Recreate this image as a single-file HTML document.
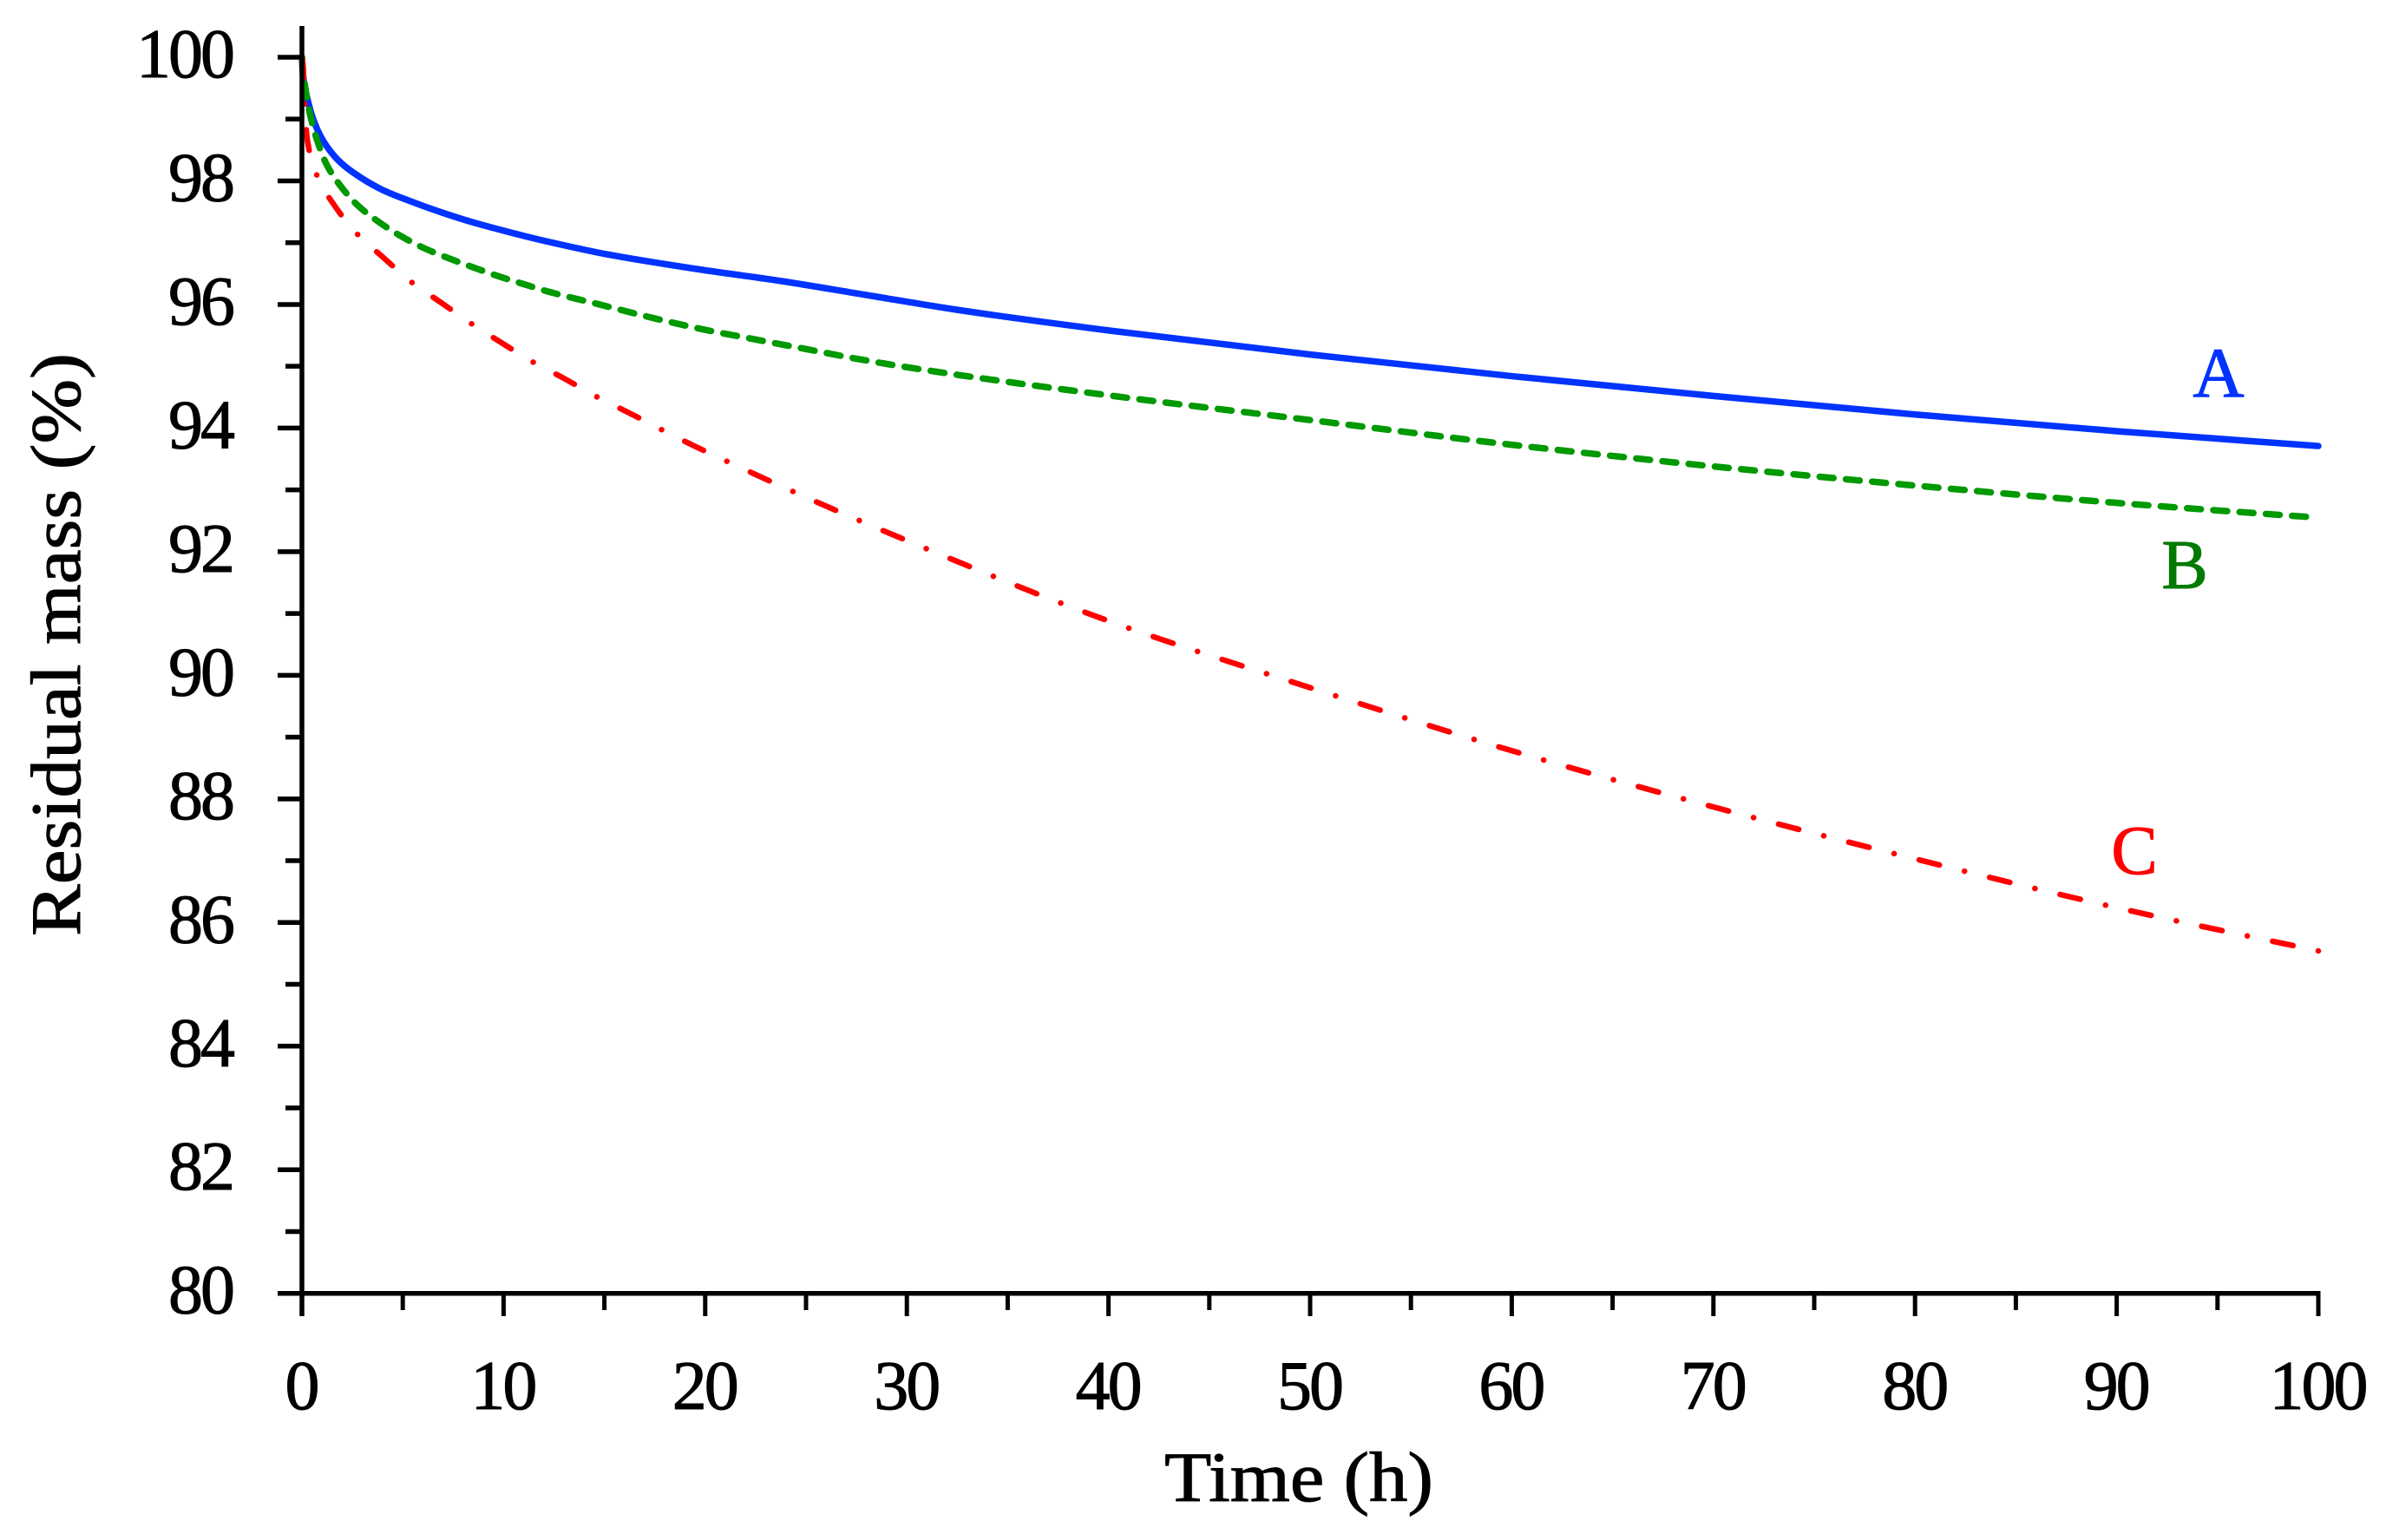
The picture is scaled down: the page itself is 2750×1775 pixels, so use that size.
<!DOCTYPE html>
<html lang="en">
<head>
<meta charset="utf-8">
<title>Residual mass over time</title>
<style>
html,body{margin:0;padding:0;background:#fff;}
svg{display:block;font-family:"Liberation Serif",serif;}
</style>
</head>
<body>
<svg id="chart" xmlns="http://www.w3.org/2000/svg" width="2750" height="1775" viewBox="0 0 2750 1775">
  <rect x="0" y="0" width="2750" height="1775" fill="#ffffff"/>
  <g id="series"></g>
  <g id="y-axis"></g>
  <g id="x-axis"></g>
  <text transform="translate(92,743) rotate(-90)" text-anchor="middle" font-size="82" fill="#000" stroke="#000" stroke-width="1" textLength="672" lengthAdjust="spacingAndGlyphs">Residual mass (%)</text>
  <text x="1497" y="1730" text-anchor="middle" font-size="82" fill="#000" stroke="#000" stroke-width="1" textLength="310" lengthAdjust="spacingAndGlyphs">Time (h)</text>
  <text x="2557" y="457" text-anchor="middle" font-size="82" fill="#0033ff" stroke="#0033ff" stroke-width="1">A</text>
  <text x="2518" y="678" text-anchor="middle" font-size="80" fill="#007a00" stroke="#007a00" stroke-width="1">B</text>
  <text x="2460" y="1007" text-anchor="middle" font-size="80" fill="#ff0000" stroke="#ff0000" stroke-width="1">C</text>
</svg>
<script>
const timesA = [0,0.05,0.3,0.66,1.09,1.81,2.52,3.96,5.39,6.83,8.26,9.7,11.13,12.56,15.15,19.45,23.75,28.05,32.36,40,50,60,70,80,90,100];
const massA = [100,99.72,99.29,98.91,98.63,98.33,98.14,97.86,97.67,97.5,97.35,97.22,97.1,96.99,96.81,96.58,96.38,96.15,95.92,95.58,95.19,94.84,94.52,94.22,93.95,93.71];
const timesB = [0,0.05,0.16,0.4,0.73,1.2,1.91,2.78,3.79,4.89,6.07,7.26,8.5,9.72,10.99,12.2,14.76,17.3,19.85,22.39,24.97,27.55,30.1,40,50,60,70,80,90,100];
const massB = [100,99.78,99.52,99.08,98.68,98.28,97.92,97.6,97.34,97.11,96.91,96.75,96.6,96.46,96.33,96.21,96.0,95.79,95.6,95.44,95.28,95.12,94.98,94.53,94.13,93.73,93.38,93.07,92.79,92.55];
const timesC = [0,0.06,0.13,0.26,0.73,1.64,2.74,4.07,5.44,6.9,8.4,9.9,11.45,13.02,14.6,16.2,17.8,19.4,21.03,25,30,40,50,60,70,80,90,100];
const massC = [100,99.85,99.26,98.68,98.1,97.59,97.14,96.75,96.36,96.03,95.69,95.38,95.07,94.8,94.51,94.25,93.98,93.72,93.47,92.88,92.18,90.88,89.8,88.78,87.87,87.03,86.24,85.54];
const xTickLabels = [0,10,20,30,40,50,60,70,80,90,100];
const yTickLabels = [80,82,84,86,88,90,92,94,96,98,100];
const xMinorTicks = [5,15,25,35,45,55,65,75,85,95];
const yMinorTicks = [81,83,85,87,89,91,93,95,97,99];

const NS = 'http://www.w3.org/2000/svg';
const plot = {x0: 348, x1: 2672, y0: 1490.7, y1: 66, top: 30};
function xScale(t){ return plot.x0 + (t - 0) / 100 * (plot.x1 - plot.x0); }
function yScale(v){ return plot.y0 - (v - 80) / 20 * (plot.y0 - plot.y1); }

function makeLine(parent, x1, y1, x2, y2, w){
  const el = document.createElementNS(NS, 'line');
  el.setAttribute('x1', x1);
  el.setAttribute('y1', y1);
  el.setAttribute('x2', x2);
  el.setAttribute('y2', y2);
  el.setAttribute('stroke', '#000');
  el.setAttribute('stroke-width', w);
  parent.appendChild(el);
  return el;
}
function makeText(parent, x, y, anchor, str){
  const el = document.createElementNS(NS, 'text');
  el.setAttribute('x', x);
  el.setAttribute('y', y);
  el.setAttribute('text-anchor', anchor);
  el.setAttribute('font-size', '80');
  el.setAttribute('letter-spacing', '-3');
  el.setAttribute('fill', '#000');
  el.setAttribute('stroke', '#000');
  el.setAttribute('stroke-width', '1');
  el.textContent = str;
  parent.appendChild(el);
  return el;
}
// Monotone cubic path (harmonic-mean tangents) through the data points.
function smoothPath(ts, vs){
  const p = ts.map((t, i) => [xScale(t), yScale(vs[i])]);
  const n = p.length;
  const seg = [];
  for (let i = 0; i < n - 1; i++) seg.push((p[i + 1][1] - p[i][1]) / (p[i + 1][0] - p[i][0]));
  const m = p.map((_, i) => {
    if (i === 0) return seg[0];
    if (i === n - 1) return seg[n - 2];
    const h0 = p[i][0] - p[i - 1][0], h1 = p[i + 1][0] - p[i][0];
    const w1 = 2 * h1 + h0, w2 = h1 + 2 * h0;
    if (seg[i - 1] * seg[i] <= 0) return 0;
    return (w1 + w2) / (w1 / seg[i - 1] + w2 / seg[i]);
  });
  let d = 'M' + p[0][0].toFixed(2) + ' ' + p[0][1].toFixed(2);
  for (let i = 0; i < n - 1; i++) {
    const h = p[i + 1][0] - p[i][0];
    d += 'C' + (p[i][0] + h / 3).toFixed(2) + ' ' + (p[i][1] + m[i] * h / 3).toFixed(2) + ' ' +
         (p[i + 1][0] - h / 3).toFixed(2) + ' ' + (p[i + 1][1] - m[i + 1] * h / 3).toFixed(2) + ' ' +
         p[i + 1][0].toFixed(2) + ' ' + p[i + 1][1].toFixed(2);
  }
  return d;
}
function makeSeries(ts, vs, color, width){
  const el = document.createElementNS(NS, 'path');
  el.setAttribute('d', smoothPath(ts, vs));
  el.setAttribute('fill', 'none');
  el.setAttribute('stroke', color);
  el.setAttribute('stroke-width', width);
  el.setAttribute('stroke-linecap', 'round');
  el.setAttribute('stroke-linejoin', 'round');
  document.getElementById('series').appendChild(el);
  return el;
}

const lineA = makeSeries(timesA, massA, '#0033ff', 7.5);



const lineB = makeSeries(timesB, massB, '#009900', 7.5);


const lenB = lineB.getTotalLength();
const periodB = lenB / Math.round(lenB / 30.3);
lineB.setAttribute('stroke-dasharray', '16 ' + (periodB - 16).toFixed(3));

const lineC = makeSeries(timesC, massC, '#ff0000', 6.5);


const lenC = lineC.getTotalLength();
const periodC = (lenC - 53.85) / Math.round((lenC - 53.85) / 83.7);
const gapC = (periodC - 24.1) / 2;
lineC.setAttribute('stroke-dasharray', '24 ' + gapC.toFixed(3) + ' 0.1 ' + gapC.toFixed(3));

const yAxis = document.getElementById('y-axis');
const xAxis = document.getElementById('x-axis');

const yLine = makeLine(yAxis, plot.x0, plot.top, plot.x0, 1517, 5.5);


const xLine = makeLine(xAxis, 320, plot.y0, plot.x1 + 2.5, plot.y0, 5.5);



yTickLabels.forEach(v => {
  const tick = makeLine(yAxis, 320, yScale(v), plot.x0, yScale(v), 5.5);
  
  
  const label = makeText(yAxis, 268, yScale(v) + 23, 'end', String(v));
  
  
});
yMinorTicks.forEach(v => {
  const tick = makeLine(yAxis, 329, yScale(v), plot.x0, yScale(v), 5.5);
  
  
});
xTickLabels.forEach(t => {
  const tick = makeLine(xAxis, xScale(t), plot.y0, xScale(t), 1517, 5);
  
  
  const label = makeText(xAxis, xScale(t) - 1, 1624, 'middle', String(t));
  
  
});
xMinorTicks.forEach(t => {
  const tick = makeLine(xAxis, xScale(t), plot.y0, xScale(t), 1510, 5);
  
  
});
</script>
</body>
</html>
